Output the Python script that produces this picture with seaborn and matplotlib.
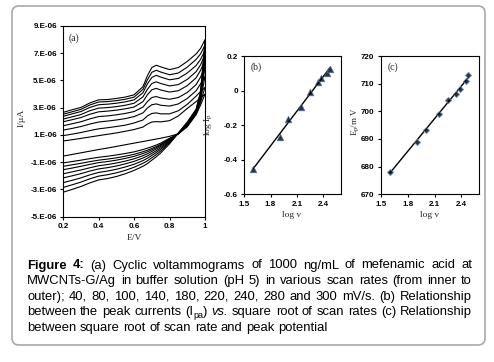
import numpy as np
import pandas as pd
import matplotlib
matplotlib.use("Agg")
import matplotlib.pyplot as plt
import seaborn as sns
from matplotlib.patches import FancyBboxPatch
from matplotlib.transforms import IdentityTransform

# ---------------- data ----------------
potential_V = [0.20, 0.25, 0.30, 0.35, 0.40, 0.45, 0.50, 0.55, 0.60, 0.65,
               0.675, 0.70, 0.725, 0.75, 0.80, 0.85, 0.90, 0.95, 0.975, 1.00]
scan_rates = [40, 80, 100, 140, 180, 220, 240, 280, 300]

# anodic (forward) branches, in 1E-06 A, inner -> outer
forward_40 = [0.56, 0.65, 0.75, 0.85, 0.95, 1.05, 1.15, 1.27, 1.40, 1.58, 1.80, 1.95, 1.98, 1.96, 2.05, 2.40, 2.95, 3.45, 3.75, 4.00]
forward_80 = [0.95, 1.06, 1.18, 1.32, 1.45, 1.53, 1.62, 1.72, 1.88, 2.10, 2.40, 2.58, 2.62, 2.55, 2.55, 2.78, 3.25, 3.85, 4.20, 4.50]
forward_100 = [1.36, 1.48, 1.62, 1.80, 1.95, 2.02, 2.10, 2.20, 2.35, 2.62, 2.98, 3.22, 3.28, 3.18, 3.12, 3.28, 3.68, 4.25, 4.75, 5.30]
forward_140 = [1.68, 1.82, 1.97, 2.18, 2.35, 2.40, 2.48, 2.58, 2.72, 3.05, 3.45, 3.75, 3.82, 3.72, 3.62, 3.75, 4.12, 4.70, 5.25, 6.00]
forward_180 = [1.97, 2.12, 2.28, 2.52, 2.70, 2.75, 2.82, 2.92, 3.05, 3.45, 3.95, 4.32, 4.42, 4.30, 4.15, 4.25, 4.62, 5.20, 5.75, 6.50]
forward_220 = [2.17, 2.33, 2.50, 2.78, 2.97, 3.01, 3.08, 3.18, 3.33, 3.80, 4.35, 4.78, 4.90, 4.78, 4.60, 4.70, 5.08, 5.65, 6.15, 6.90]
forward_240 = [2.37, 2.55, 2.72, 3.02, 3.22, 3.26, 3.33, 3.43, 3.58, 4.10, 4.75, 5.22, 5.38, 5.25, 5.05, 5.15, 5.55, 6.10, 6.55, 7.20]
forward_280 = [2.52, 2.70, 2.88, 3.20, 3.42, 3.45, 3.52, 3.62, 3.78, 4.35, 5.05, 5.60, 5.75, 5.62, 5.42, 5.55, 5.98, 6.55, 6.95, 7.60]
forward_300 = [2.66, 2.85, 3.02, 3.35, 3.58, 3.60, 3.68, 3.78, 3.95, 4.55, 5.35, 5.95, 6.12, 6.00, 5.80, 5.95, 6.40, 6.95, 7.35, 8.00]

# cathodic (reverse) branches at potential_V[:-1], in 1E-06 A
reverse_40 = [-0.55, -0.43, -0.31, -0.19, -0.07, 0.04, 0.16, 0.28, 0.40, 0.52, 0.58, 0.64, 0.70, 0.76, 0.90, 1.08, 1.60, 2.50, 3.20]
reverse_80 = [-1.05, -0.95, -0.85, -0.74, -0.64, -0.56, -0.47, -0.36, -0.24, -0.07, 0.03, 0.14, 0.26, 0.40, 0.76, 1.09, 1.66, 2.55, 3.40]
reverse_100 = [-1.30, -1.19, -1.08, -0.96, -0.85, -0.77, -0.68, -0.56, -0.42, -0.23, -0.12, 0.01, 0.15, 0.31, 0.70, 1.10, 1.70, 2.60, 3.55]
reverse_140 = [-1.55, -1.43, -1.30, -1.16, -1.03, -0.95, -0.85, -0.72, -0.57, -0.36, -0.24, -0.09, 0.07, 0.25, 0.66, 1.10, 1.74, 2.65, 3.70]
reverse_180 = [-1.85, -1.71, -1.57, -1.41, -1.26, -1.17, -1.06, -0.92, -0.75, -0.52, -0.38, -0.21, -0.03, 0.16, 0.60, 1.11, 1.78, 2.70, 3.80]
reverse_220 = [-2.15, -2.00, -1.84, -1.65, -1.49, -1.40, -1.28, -1.12, -0.94, -0.69, -0.54, -0.35, -0.16, 0.06, 0.54, 1.12, 1.82, 2.75, 3.90]
reverse_240 = [-2.50, -2.33, -2.15, -1.93, -1.75, -1.65, -1.52, -1.35, -1.15, -0.88, -0.71, -0.50, -0.29, -0.05, 0.48, 1.13, 1.85, 2.80, 4.00]
reverse_280 = [-2.85, -2.66, -2.46, -2.22, -2.02, -1.92, -1.78, -1.60, -1.37, -1.08, -0.90, -0.67, -0.44, -0.18, 0.42, 1.15, 1.90, 2.85, 4.10]
reverse_300 = [-3.20, -3.00, -2.78, -2.52, -2.30, -2.20, -2.05, -1.85, -1.60, -1.30, -1.10, -0.85, -0.60, -0.32, 0.35, 1.15, 1.95, 2.90, 4.20]

forward_all = [forward_40, forward_80, forward_100, forward_140, forward_180,
               forward_220, forward_240, forward_280, forward_300]
reverse_all = [reverse_40, reverse_80, reverse_100, reverse_140, reverse_180,
               reverse_220, reverse_240, reverse_280, reverse_300]

a_yticks = [-5, -3, -1, 1, 3, 5, 7, 9]
a_yticklabels = ["-5.E-06", "-3.E-06", "-1.E-06", "1.E-06", "3.E-06", "5.E-06", "7.E-06", "9.E-06"]
a_xticks = [0.2, 0.4, 0.6, 0.8, 1.0]
a_xticklabels = ["0.2", "0.4", "0.6", "0.8", "1"]

log_v = [1.602, 1.903, 2.000, 2.146, 2.255, 2.342, 2.380, 2.447, 2.477]
log_ip = [-0.455, -0.267, -0.164, -0.093, -0.010, 0.048, 0.075, 0.100, 0.125]
ep_mV = [678.2, 689.0, 693.2, 699.0, 704.0, 706.1, 708.0, 711.0, 713.1]

bc_xticks = [1.5, 1.8, 2.1, 2.4]
bc_xticklabels = ["1.5", "1.8", "2.1", "2.4"]
b_yticks = [-0.6, -0.4, -0.2, 0.0, 0.2]
b_yticklabels = ["-0.6", "-0.4", "-0.2", "0", "0.2"]
c_yticks = [670, 680, 690, 700, 710, 720]
c_yticklabels = ["670", "680", "690", "700", "710", "720"]

# ---------------- build table ----------------
rows = []
for rate, fw, rv in zip(scan_rates, forward_all, reverse_all):
    k = 0
    for e, i in zip(potential_V, fw):
        rows.append((rate, k, e, i)); k += 1
    for e, i in zip(potential_V[:-1][::-1], rv[::-1]):
        rows.append((rate, k, e, i)); k += 1
cv = pd.DataFrame(rows, columns=["rate", "order", "E", "I"])
fits = pd.DataFrame({"logv": log_v, "logip": log_ip, "ep": ep_mV})

# ---------------- figure ----------------
sns.set_style("ticks")
plt.rcParams["font.family"] = ["Liberation Sans", "DejaVu Sans"]
fig = plt.figure(figsize=(4.94, 3.62), dpi=100)
fig.patch.set_facecolor("white")

tickfont = dict(fontsize=5.8, fontweight="bold", family="Liberation Sans")
labfont = dict(fontsize=6.8, family="Liberation Serif")

def style_axes(ax):
    for s in ax.spines.values():
        s.set_linewidth(0.8)
        s.set_color("black")
    ax.tick_params(direction="out", length=2.5, width=0.8, pad=2, colors="black")

# panel (a)
ax_a = fig.add_axes([0.128, 0.4014, 0.287, 0.5268])
sns.lineplot(data=cv, x="E", y="I", units="rate", estimator=None, sort=False,
             color="black", lw=0.8, ax=ax_a, legend=False)
ax_a.set_xlim(0.2, 1.0)
ax_a.set_ylim(-5, 9)
ax_a.set_xticks(a_xticks)
ax_a.set_xticklabels(a_xticklabels, **tickfont)
ax_a.set_yticks(a_yticks)
ax_a.set_yticklabels(a_yticklabels, **tickfont)
ax_a.set_xlabel("")
ax_a.set_ylabel("")
style_axes(ax_a)
ax_a.text(0.035, 0.935, "(a)", transform=ax_a.transAxes, ha="left", va="center",
          fontsize=7, family="Liberation Serif")

# panel (b)
ax_b = fig.add_axes([0.4945, 0.4633, 0.1951, 0.382])
sns.regplot(data=fits, x="logv", y="logip", ci=None, marker="^", ax=ax_b,
            scatter_kws=dict(s=22, color="black", edgecolors="#4a6fa5", linewidths=0.6, zorder=3),
            line_kws=dict(color="black", lw=1.0, zorder=2))
ax_b.set_xlim(1.5, 2.6)
ax_b.set_ylim(-0.6, 0.2)
ax_b.set_xticks(bc_xticks)
ax_b.set_xticklabels(bc_xticklabels, **tickfont)
ax_b.set_yticks(b_yticks)
ax_b.set_yticklabels(b_yticklabels, **tickfont)
ax_b.set_xlabel("")
ax_b.set_ylabel("")
style_axes(ax_b)
ax_b.text(0.07, 0.92, "(b)", transform=ax_b.transAxes, ha="left", va="center",
          fontsize=7, family="Liberation Serif")

# panel (c)
ax_c = fig.add_axes([0.7707, 0.4633, 0.1996, 0.382])
sns.regplot(data=fits, x="logv", y="ep", ci=None, marker="D", ax=ax_c,
            scatter_kws=dict(s=10, color="black", edgecolors="#6a8fc5", linewidths=0.7, zorder=3),
            line_kws=dict(color="black", lw=1.0, zorder=2))
ax_c.set_xlim(1.5, 2.6)
ax_c.set_ylim(670, 720)
ax_c.set_xticks(bc_xticks)
ax_c.set_xticklabels(bc_xticklabels, **tickfont)
ax_c.set_yticks(c_yticks)
ax_c.set_yticklabels(c_yticklabels, **tickfont)
ax_c.set_xlabel("")
ax_c.set_ylabel("")
style_axes(ax_c)
ax_c.text(0.07, 0.92, "(c)", transform=ax_c.transAxes, ha="left", va="center",
          fontsize=7, family="Liberation Serif")

# axis labels (pixel positions, origin top-left converted)
H = 362.0
def ftxt(xp, yp, s, **kw):
    return fig.text(xp / 494.0, 1 - yp / H, s, **kw)

ftxt(22, 118, "I/\u00b5A", rotation=90, ha="center", va="center", **labfont)
ftxt(134, 238, "E/V", ha="center", va="center", **labfont)
ftxt(209, 125, "log I$_\\mathregular{p}$", rotation=90, ha="center", va="center", **labfont)
ftxt(292, 215, "log v", ha="center", va="center", **labfont)
ftxt(356, 122, "E$_\\mathregular{p}$/m V", rotation=90, ha="center", va="center",
     fontsize=6.4, family="Liberation Serif")
ftxt(430, 215, "log v", ha="center", va="center", **labfont)

# rounded frame
frame = FancyBboxPatch((12, H - 345), 473, 339, boxstyle="round,pad=0,rounding_size=7",
                       transform=IdentityTransform(), fill=False, ec="#a8a8a8", lw=1.2)
fig.add_artist(frame)

# ---------------- caption (justified) ----------------
cap_size = 9.4
base = dict(fontsize=cap_size, family="Liberation Sans", color="black")
bold = dict(base, fontweight="bold")
ital = dict(base, style="italic")
sub = dict(base, fontsize=6.5)

def words_of(s, kw=base):
    return [[(w, kw, 0)] for w in s.split()]

caption_lines = [
    ([[("Figure", bold, 0)], [("4:", bold, 0)]] + words_of("(a) Cyclic voltammograms of 1000 ng/mL of mefenamic acid at"), True),
    (words_of("MWCNTs-G/Ag in buffer solution (pH 5) in various scan rates (from inner to"), True),
    (words_of("outer); 40, 80, 100, 140, 180, 220, 240, 280 and 300 mV/s. (b) Relationship"), True),
    (words_of("between the peak currents") + [[("(I", base, 0), ("pa", sub, -2.8), (")", base, 0)], [("vs.", ital, 0)]]
     + words_of("square root of scan rates (c) Relationship"), True),
    (words_of("between square root of scan rate and peak potential"), False),
]
baselines = [268.5, 284.2, 299.8, 315.4, 331.0]

renderer = fig.canvas.get_renderer()
tmp1 = fig.text(0, 0, "a a", transform=IdentityTransform(), **base)
tmp2 = fig.text(0, 0, "aa", transform=IdentityTransform(), **base)
space_w = tmp1.get_window_extent(renderer).width - tmp2.get_window_extent(renderer).width
tmp1.remove(); tmp2.remove()

X0, X1 = 27.0, 472.0
for (words, justify), yb in zip(caption_lines, baselines):
    placed = []
    widths = []
    for word in words:
        off = 0.0
        items = []
        for text, kw, dy in word:
            t = fig.text(0, 0, text, transform=IdentityTransform(), ha="left", va="baseline", **kw)
            w = t.get_window_extent(renderer).width
            items.append((t, off, dy))
            off += w
        placed.append(items)
        widths.append(off)
    if justify and len(words) > 1:
        gap = (X1 - X0 - sum(widths)) / (len(words) - 1)
    else:
        gap = space_w
    x = X0
    for items, w in zip(placed, widths):
        for t, off, dy in items:
            t.set_position((x + off, H - yb + dy))
        x += w + gap

fig.savefig("out.png", dpi=100, facecolor="white")
